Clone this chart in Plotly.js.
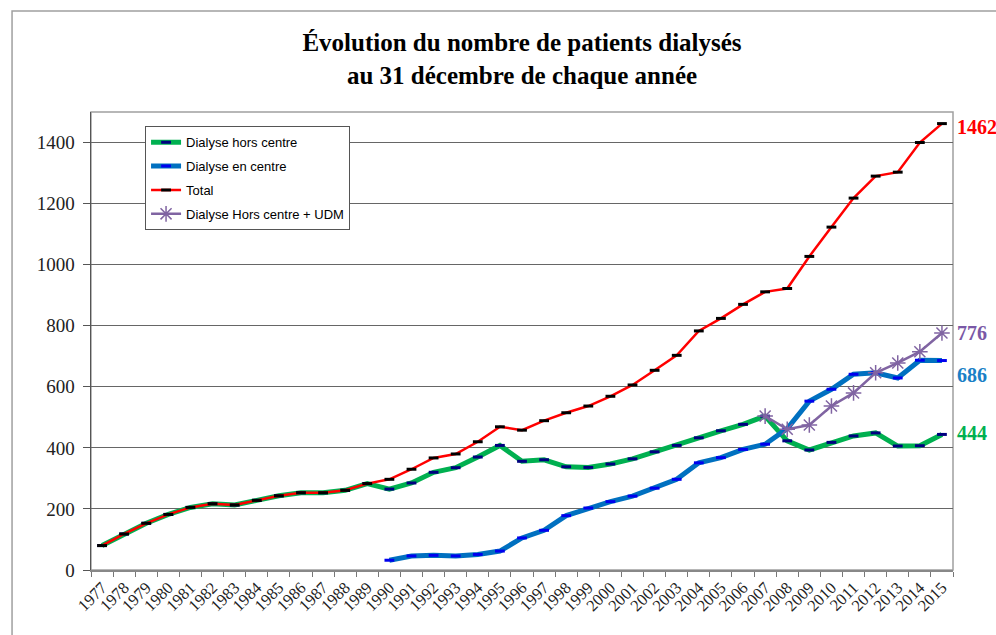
<!DOCTYPE html>
<html>
<head>
<meta charset="utf-8">
<script src="https://cdn.plot.ly/plotly-3.0.1.min.js"></script>
<style>html,body{margin:0;padding:0;background:#fff;}#chart{width:996px;height:635px;}</style>
</head>
<body>
<div id="chart"></div>
<script>
const years = ["1977","1978","1979","1980","1981","1982","1983","1984","1985","1986","1987","1988","1989","1990","1991","1992","1993","1994","1995","1996","1997","1998","1999","2000","2001","2002","2003","2004","2005","2006","2007","2008","2009","2010","2011","2012","2013","2014","2015"];

const horsCentre = [80,118,153,182,205,217,213,228,243,253,253,261,283,265,285,320,335,370,408,356,361,338,336,347,364,387,408,433,456,477,504,423,393,418,439,449,406,407,444];

const enCentre = [null,null,null,null,null,null,null,null,null,null,null,null,null,32,46,48,46,51,62,105,130,178,203,224,242,268,297,351,368,395,412,463,553,592,641,646,629,687,686];

const total = [80,118,153,182,205,217,213,228,243,253,253,261,283,297,330,367,380,420,469,458,489,515,537,569,606,654,703,783,824,870,911,922,1027,1123,1218,1290,1303,1400,1462];

const horsCentreUDM = [null,null,null,null,null,null,null,null,null,null,null,null,null,null,null,null,null,null,null,null,null,null,null,null,null,null,null,null,null,null,504,461,475,537,580,646,678,715,776];

const seriesNames = ["Dialyse hors centre","Dialyse en centre","Total","Dialyse Hors centre + UDM"];
const endLabels = ["444","686","1462","776"];

const serif = "Liberation Serif, Times New Roman, serif";
const sans = "Liberation Sans, Arial, sans-serif";

const traces = [
  {x: years, y: horsCentre, name: seriesNames[0], type: "scatter", mode: "lines+markers",
   line: {color: "#00b050", width: 5},
   marker: {symbol: "line-ew", size: 7, color: "#000080", line: {color: "#000080", width: 3}},
   legendgroup: "a"},
  {x: years, y: enCentre, name: seriesNames[1], type: "scatter", mode: "lines+markers",
   line: {color: "#0070c0", width: 5},
   marker: {symbol: "line-ew", size: 7, color: "#0000ee", line: {color: "#0000ee", width: 3}},
   legendgroup: "b"},
  {x: years, y: total, name: seriesNames[2], type: "scatter", mode: "lines+markers",
   line: {color: "#ff0000", width: 2.5},
   marker: {symbol: "line-ew", size: 7, color: "#000000", line: {color: "#000000", width: 3}},
   legendgroup: "c"},
  {x: years, y: horsCentreUDM, name: seriesNames[3], type: "scatter", mode: "lines+markers",
   line: {color: "#8064a2", width: 2.5},
   marker: {symbol: "asterisk-open", size: 13, color: "#8064a2", line: {color: "#8064a2", width: 1.5}},
   legendgroup: "d"}
];

const labelColors = ["#00b050","#1a7fc6","#ff0000","#7a58a6"];
const labelY = [450, 638, 1450, 776];
const annotations = endLabels.map((t, i) => ({
  xref: "paper", yref: "y", x: 1, y: labelY[i], xanchor: "left", yanchor: "middle",
  xshift: 2, text: "<b>" + t + "</b>", showarrow: false,
  font: {family: serif, size: 20, color: labelColors[i]}
}));

const layout = {
  width: 996, height: 635,
  margin: {l: 91, r: 43, t: 112, b: 65},
  paper_bgcolor: "#ffffff", plot_bgcolor: "#ffffff",
  showlegend: true,
  title: {
    text: "<b>Évolution du nombre de patients dialysés<br>au 31 décembre de chaque année</b>",
    font: {family: serif, size: 25, color: "#000"},
    x: 0.5, xref: "paper", y: 1 - 51/635, yref: "container", yanchor: "middle"
  },
  xaxis: {
    type: "category", range: [-0.5, 38.5],
    tickangle: -45, tickson: "boundaries", ticks: "outside", ticklen: 5, tickcolor: "#777",
    tickfont: {family: serif, size: 16.5, color: "#222"},
    showgrid: false, zeroline: false,
    showline: true, linecolor: "#888", linewidth: 1.5
  },
  yaxis: {
    range: [0, 1500], dtick: 200, tick0: 0,
    ticks: "outside", ticklen: 7, tickcolor: "#555",
    tickfont: {family: serif, size: 19, color: "#222"},
    ticklabelstandoff: 4,
    showgrid: true, gridcolor: "#666", gridwidth: 1,
    zeroline: false, showline: true, linecolor: "#555", linewidth: 1.5
  },
  legend: {
    x: 0.0627, y: 0.969, xanchor: "left", yanchor: "top",
    bgcolor: "#ffffff", bordercolor: "#555", borderwidth: 1,
    font: {family: sans, size: 13, color: "#000"},
    tracegroupgap: 4, traceorder: "grouped"
  },
  annotations: annotations,
  shapes: [
    {type: "rect", xref: "paper", yref: "paper", x0: 0, x1: 1, y0: 0, y1: 1,
     line: {color: "#a0a0a0", width: 1.5}, layer: "below"},
    {type: "rect", xref: "paper", yref: "paper", x0: -0.0916, x1: 1.06, y0: -0.16, y1: 1.2205,
     line: {color: "#a0a0a0", width: 1.5}, layer: "below"}
  ]
};

Plotly.newPlot("chart", traces, layout, {displayModeBar: false, staticPlot: true});
</script>
</body>
</html>
